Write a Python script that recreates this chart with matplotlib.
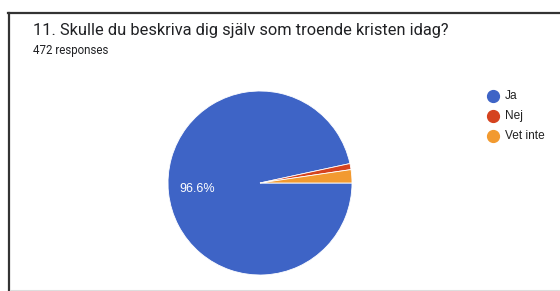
import matplotlib
matplotlib.use("Agg")
import matplotlib.pyplot as plt
from matplotlib.lines import Line2D

title = "11. Skulle du beskriva dig själv som troende kristen idag?"
subtitle = "472 responses"
categories = ["Ja", "Nej", "Vet inte"]
counts = [456, 5, 11]
colors = ["#3e64c6", "#d5431f", "#f29a30"]

W, H = 560, 291
fig = plt.figure(figsize=(W / 100, H / 100), dpi=100)
fig.patch.set_facecolor("white")

def fx(x):
    return x / W

def fy(y):
    return 1 - y / H

# frame lines
fig.add_artist(Line2D([fx(9), fx(9)], [fy(12.5), fy(291)], color="#333333", lw=1.6))
fig.add_artist(Line2D([fx(8), fx(559)], [fy(12.5), fy(12.5)], color="#333333", lw=1.6))
fig.add_artist(Line2D([fx(10), fx(560)], [fy(289.5), fy(289.5)], color="#dddddd", lw=0.8))

fig.text(fx(33), fy(30), title, fontsize=11.8, color="#202124", va="center", ha="left",
         family="Roboto")
fig.text(fx(33), fy(50), subtitle, fontsize=8.3, color="#202124", va="center", ha="left",
         family="Roboto")

cx, cy, r = 260, 183, 92
ax = fig.add_axes([fx(cx - r), fy(cy + r), 2 * r / W, 2 * r / H])
wedges, _ = ax.pie(counts, colors=colors, startangle=0, counterclock=False,
                   wedgeprops=dict(edgecolor="white", linewidth=0.6))
ax.set_xlim(-1, 1)
ax.set_ylim(-1, 1)
ax.set_aspect("equal")
ax.axis("off")

pct = counts[0] / sum(counts) * 100
fig.text(fx(197.5), fy(189), f"{pct:.1f}%", fontsize=9, color="white",
         ha="center", va="center", family="Liberation Sans")

for i, (cat, col) in enumerate(zip(categories, colors)):
    y = 96 + 20 * i
    fig.add_artist(Line2D([fx(493)], [fy(y)], marker="o", markersize=8.5,
                          color=col, linestyle="none"))
    fig.text(fx(505), fy(y), cat, fontsize=8.6, color="#222222", va="center",
             ha="left", family="Liberation Sans")

fig.savefig("out.png", dpi=100, facecolor="white")
